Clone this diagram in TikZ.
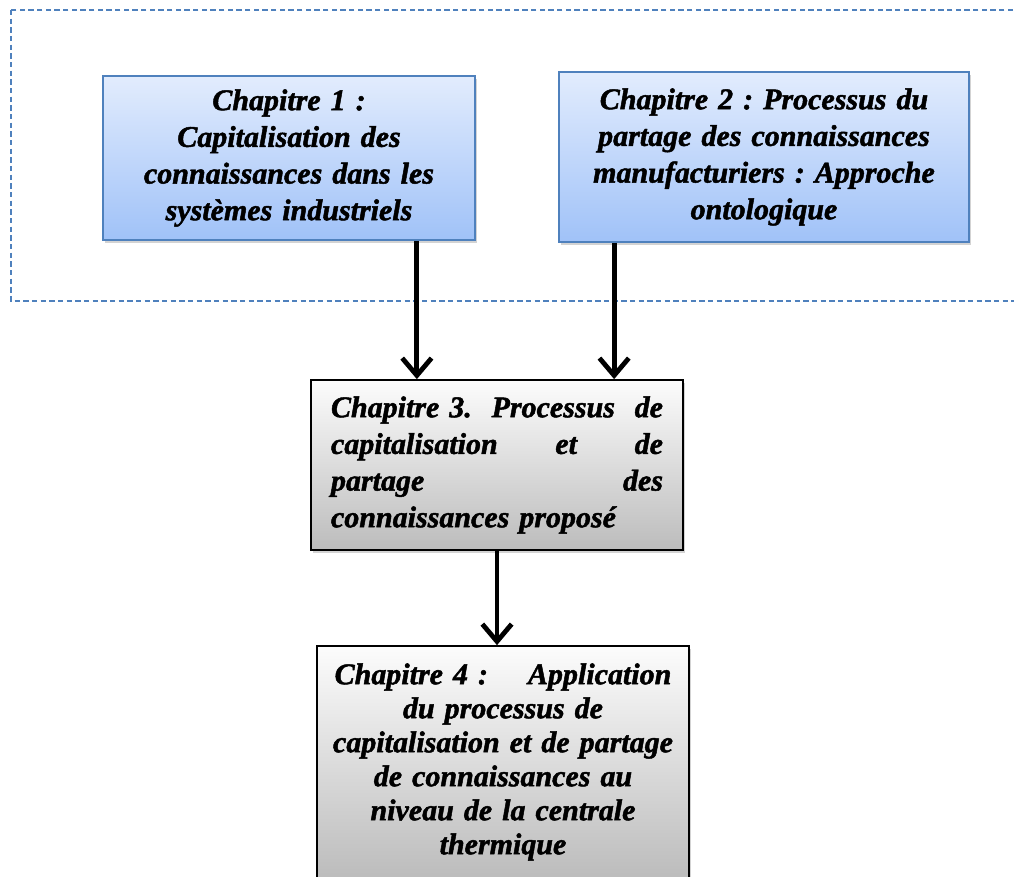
\documentclass[tikz,border=0pt]{standalone}
\usepackage{fontspec}
\setmainfont{Liberation Serif}[BoldItalicFeatures={FakeBold=1.6}]
\usetikzlibrary{positioning,shadows,arrows.meta}

\definecolor{cadreblue}{RGB}{79,129,189}
\definecolor{bluetop}{RGB}{226,236,253}
\definecolor{bluebot}{RGB}{160,194,248}
\definecolor{greytop}{RGB}{252,252,252}
\definecolor{greybot}{RGB}{188,188,188}

\begin{document}
\frenchspacing
\begin{tikzpicture}[x=0.75pt, y=-0.75pt,
    bluenode/.style={rectangle, draw=cadreblue, line width=1.3pt, top color=bluetop, bottom color=bluebot,
        drop shadow={shadow xshift=1.5pt, shadow yshift=-2.5pt, opacity=0.35},
        align=center, font=\fontsize{22.5}{27.5}\selectfont\bfseries\itshape, inner sep=0pt},
    greynode/.style={rectangle, draw=black, line width=1.3pt, top color=greytop, bottom color=greybot,
        drop shadow={shadow xshift=1.5pt, shadow yshift=-2.5pt, opacity=0.35},
        font=\fontsize{22.5}{27.5}\selectfont\bfseries\itshape, inner sep=0pt},
    fleche/.style={line width=3.6pt, -{Straight Barb[length=13pt, width=22pt]}},
    ]
    \clip (0,0) rectangle (1014,876);

    %Frame
    \draw[cadreblue, line width=0.9pt, dash pattern=on 4pt off 2.5pt] (11,10) rectangle (1040,301);

    %Nodes
    \node[bluenode, minimum width=279pt, minimum height=123pt, text width=250pt] (chap1) at (289,158)
        {Chapitre 1 :\\ Capitalisation des\\ connaissances dans les\\ systèmes industriels};
    \node[bluenode, minimum width=307.5pt, minimum height=127.5pt, text width=290pt] (chap2) at (764,157)
        {Chapitre 2 : Processus du\\ partage des connaissances\\ manufacturiers : Approche\\ ontologique};
    \node[greynode, minimum width=279pt, minimum height=127.5pt, text width=249pt, align=left] (chap3) at (497,465)
        {Chapitre 3.\hfill Processus\hfill de\\ capitalisation\hfill et\hfill de\\ partage\hfill des\\ connaissances proposé};
    \node[greynode, minimum width=279pt, minimum height=174pt, text width=260pt, align=center,
        font=\fontsize{22.5}{25.5}\selectfont\bfseries\itshape] (chap4) at (503,762)
        {Chapitre 4 :\quad\ Application\\ du processus de\\ capitalisation et de partage\\ de connaissances au\\ niveau de la centrale\\ thermique};

    %Lines
    \draw[fleche] ([xshift=-44.25pt]chap1.south east) -- ([xshift=-44.25pt]chap1.south east |- chap3.north);
    \draw[fleche] ([xshift=42pt]chap2.south west) -- ([xshift=42pt]chap2.south west |- chap3.north);
    \draw[fleche] (chap3.south) -- (chap3.south |- chap4.north);
\end{tikzpicture}
\end{document}
